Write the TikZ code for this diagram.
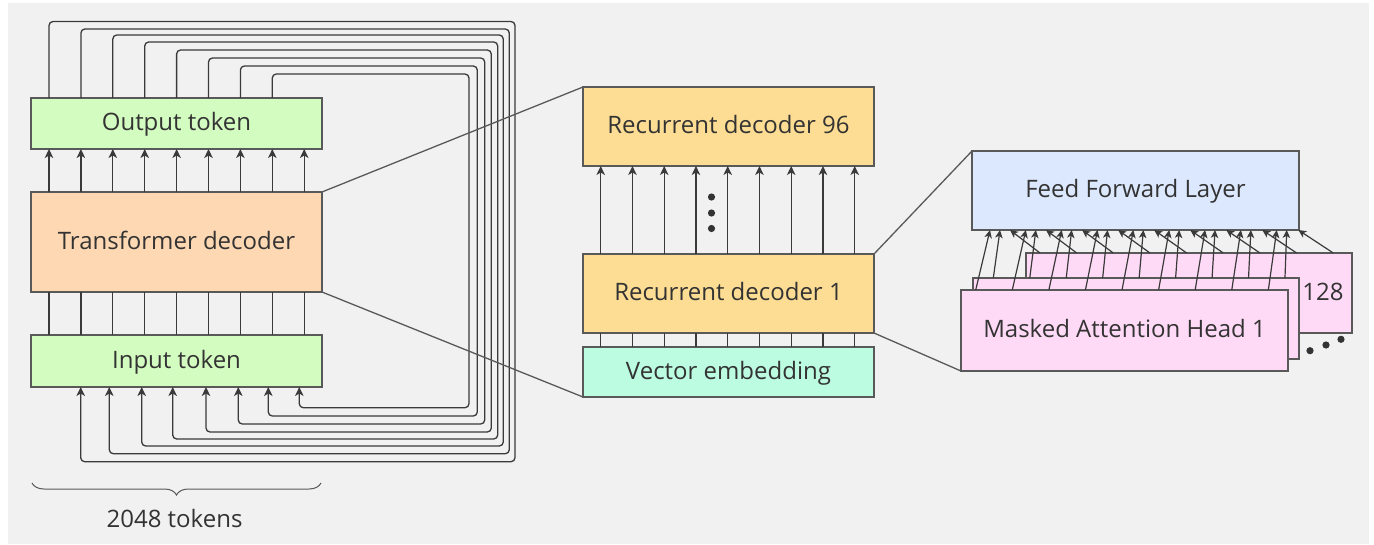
\documentclass[tikz,border=0pt]{standalone}
\usepackage{fontspec}
\setmainfont{Open Sans}
\usetikzlibrary{arrows.meta,decorations.pathreplacing,calc}
\definecolor{bg}{HTML}{F1F1F1}
\definecolor{boxline}{HTML}{595959}
\definecolor{lnk}{HTML}{3A3A3A}
\definecolor{txt}{HTML}{333333}
\definecolor{fgreen}{HTML}{D3FCC0}
\definecolor{fpeach}{HTML}{FED8B2}
\definecolor{forange}{HTML}{FDDD94}
\definecolor{fmint}{HTML}{BCFDE2}
\definecolor{fblue}{HTML}{DCE8FD}
\definecolor{fpink}{HTML}{FFDAF6}
\begin{document}
\begin{tikzpicture}[x=1pt,y=-1pt,
  box/.style={draw=boxline, line width=1.4pt, inner sep=0pt, outer sep=0pt,
    text=txt, font=\fontsize{24pt}{28pt}\selectfont, text height=14pt, text depth=0pt},
  label/.style={inner sep=0pt, outer sep=0pt, text=txt,
    font=\fontsize{24pt}{28pt}\selectfont, text height=14pt, text depth=0pt},
  arr/.style={draw=lnk, line width=1.3pt, -{Stealth[length=9pt,width=8.5pt,inset=2.5pt]}},
  arrs/.style={draw=lnk, line width=1.2pt, -{Stealth[length=8pt,width=7.5pt,inset=2.2pt]}},
  plain/.style={draw=lnk, line width=1.3pt},
  zoomline/.style={draw=boxline, line width=1.3pt},
  dot/.style={fill=txt}]
\useasboundingbox (0,0) rectangle (1374,544);
\fill[white] (0,0) rectangle (1374,544);
\fill[bg] (8,3) rectangle (1368.5,544);

% ---------- left section ----------
\node[box, fill=fgreen, minimum width=291pt, minimum height=51pt] (ot) at (176.5,123.5) {Output token};
\node[box, fill=fpeach, minimum width=291pt, minimum height=100pt] (td) at (176.5,242) {Transformer decoder};
\node[box, fill=fgreen, minimum width=291pt, minimum height=52pt] (it) at (176.5,361) {Input token};

\foreach \i in {0,...,8} {
  \draw[arr] ([xshift={(18+31.9*\i)*1pt}]td.north west) -- ([xshift={(18+31.9*\i)*1pt}]ot.south west);
  \draw[plain] ([xshift={(18+31.9*\i)*1pt}]td.south west) -- ([xshift={(18+31.9*\i)*1pt}]it.north west);
}

\foreach \i/\T/\R/\B/\xin in {0/21.5/515/461.7/80.7, 1/29/509.3/453.7/109.3, 2/35/503.3/446/141.7,
    3/42/497.7/439/172.7, 4/50/491.3/432/206, 5/58/484.7/424/238.3, 6/66/477.3/416/268.3, 7/74/469/407.7/299.3} {
  \draw[arr, rounded corners=4pt] ([xshift={(18+31.9*\i)*1pt}]ot.north west) |- (\R,\T) -- (\R,\B)
     -| ([xshift={(\xin-31)*1pt}]it.south west);
}

\draw[draw=boxline, line width=1pt, decorate, decoration={brace, amplitude=12pt}] (321,483) -- (32,483);
\node[label] (tok) at (174.5,520) {2048 tokens};

% ---------- middle section ----------
\node[box, fill=forange, minimum width=291pt, minimum height=79pt] (rd96) at (728.5,126.5) {Recurrent decoder 96};
\node[box, fill=forange, minimum width=291pt, minimum height=79pt] (rd1) at (728.5,293.5) {Recurrent decoder 1};
\node[box, fill=fmint, minimum width=291pt, minimum height=50pt] (ve) at (728.5,372) {Vector embedding};

\foreach \j in {0,...,8} {
  \draw[arr] ([xshift={(17.7+31.75*\j)*1pt}]rd1.north west) -- ([xshift={(17.7+31.75*\j)*1pt}]rd96.south west);
  \draw[plain] ([xshift={(17.7+31.75*\j)*1pt}]ve.north west) -- ([xshift={(17.7+31.75*\j)*1pt}]rd1.south west);
}
\fill[dot] (711.5,197) circle (3.6pt);
\fill[dot] (711.5,213) circle (3.6pt);
\fill[dot] (711.5,228.5) circle (3.6pt);

% ---------- right section ----------
\node[box, fill=fblue, minimum width=327pt, minimum height=79pt] (ffl) at (1135.5,190.5) {Feed Forward Layer};
\node[box, fill=fpink, minimum width=326pt, minimum height=80pt] (back) at (1189,293) {};
\node[label] (n128) at (1323,293) {128};
\node[box, fill=fpink, minimum width=326pt, minimum height=81pt] (mid) at (1136,318.5) {};
\node[box, fill=fpink, minimum width=327pt, minimum height=81pt] (front) at (1124.5,330.5) {Masked Attention Head 1};

\foreach \k in {0,...,8} {
  \draw[arrs] ([xshift={(1040+36.66*\k-1026)*1pt}]back.north west) -- ([xshift={(1010+36.04*\k-972)*1pt}]ffl.south west);
  \draw[arrs] ([xshift={(993.3+36.46*\k-973)*1pt}]mid.north west) -- ([xshift={(1000+35.84*\k-972)*1pt}]ffl.south west);
  \draw[arrs] ([xshift={(975.7+36.58*\k-961)*1pt}]front.north west) -- ([xshift={(990+35.84*\k-972)*1pt}]ffl.south west);
}
\fill[dot] (1310,350.7) circle (3.6pt);
\fill[dot] (1326,345) circle (3.6pt);
\fill[dot] (1341,339.3) circle (3.6pt);

% ---------- zoom lines ----------
\draw[zoomline] (td.north east) -- (rd96.north west);
\draw[zoomline] (td.south east) -- (ve.south west);
\draw[zoomline] (rd1.north east) -- (ffl.north west);
\draw[zoomline] (rd1.south east) -- (front.south west);
\end{tikzpicture}
\end{document}
